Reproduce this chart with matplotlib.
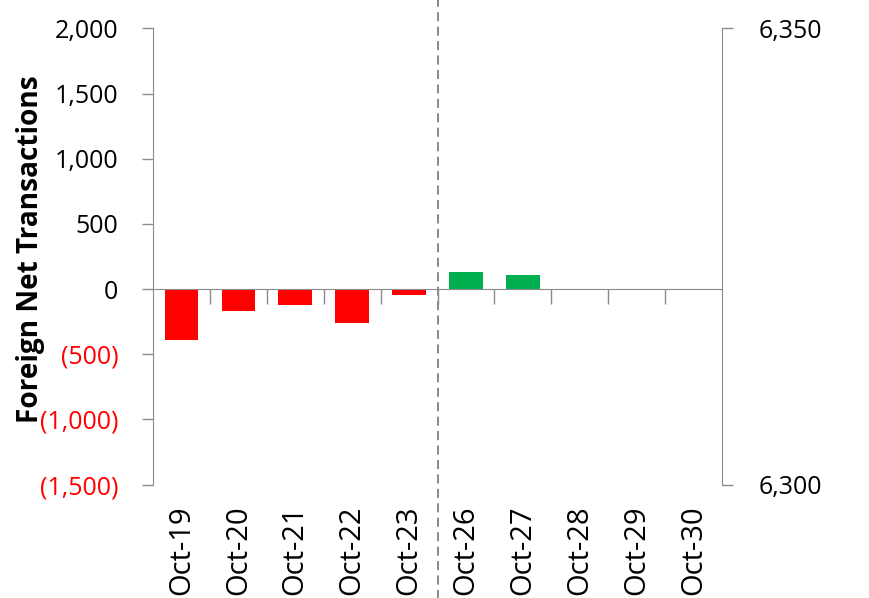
import matplotlib
matplotlib.use("Agg")
import matplotlib.pyplot as plt
import numpy as np
from matplotlib.ticker import FuncFormatter, FixedLocator

plt.rcParams['font.family'] = ['Open Sans', 'DejaVu Sans']

categories = ["Oct-19", "Oct-20", "Oct-21", "Oct-22", "Oct-23",
              "Oct-26", "Oct-27", "Oct-28", "Oct-29", "Oct-30"]
net_values = [-392, -164, -118, -256, -44, 128, 110, 0, 0, 0]
left_ticks = [-1500, -1000, -500, 0, 500, 1000, 1500, 2000]
right_ticks = [6300, 6350]

GREY = "#8c8c8c"
fig = plt.figure(figsize=(8.69, 5.98), dpi=100)
ax = fig.add_axes([0.176, 0.1895, 0.655, 0.763])

x = np.arange(len(categories))
colors = ["#FF0000" if v < 0 else "#00B050" for v in net_values]
ax.bar(x, net_values, width=0.59, color=colors, zorder=2)

ax.set_xlim(-0.5, len(categories) - 0.5)
ax.set_ylim(left_ticks[0], left_ticks[-1])
ax.set_yticks(left_ticks)

def fmt(v, pos=None):
    if v < 0:
        return "({:,.0f})".format(-v)
    return "{:,.0f}".format(v)

ax.yaxis.set_major_formatter(FuncFormatter(fmt))
for lbl, v in zip(ax.get_yticklabels(), left_ticks):
    lbl.set_color("#FF0000" if v < 0 else "black")
ax.tick_params(axis='y', length=8, width=1, color=GREY, labelsize=18, pad=17)

# zero-line spine with boundary ticks
ax.spines['bottom'].set_position(('data', 0))
ax.spines['bottom'].set_color(GREY)
ax.spines['bottom'].set_zorder(3)
ax.spines['left'].set_color(GREY)
ax.spines['top'].set_visible(False)
ax.spines['right'].set_visible(False)
ax.xaxis.set_major_locator(FixedLocator(np.arange(0.5, len(categories) - 1, 1.0)))
ax.tick_params(axis='x', length=11, width=1, color=GREY, labelbottom=False, direction='out')

# category labels at bottom
sec = ax.secondary_xaxis(0)
sec.spines['bottom'].set_visible(False)
sec.set_xticks(x)
sec.set_xticklabels(categories, rotation=90, fontsize=21, va='top')
sec.tick_params(axis='x', length=0, pad=15)

ax.set_ylabel("Foreign Net Transactions", fontsize=20.2, fontweight='bold')
ax.yaxis.set_label_coords(-0.19, 0.517)

# right axis
ax2 = ax.twinx()
ax2.set_ylim(right_ticks[0], right_ticks[-1])
ax2.set_yticks(right_ticks)
ax2.yaxis.set_major_formatter(FuncFormatter(lambda v, p: "{:,.0f}".format(v)))
ax2.tick_params(axis='y', length=8, width=1, color=GREY, labelsize=18, pad=18)
for s in ['top', 'bottom', 'left']:
    ax2.spines[s].set_visible(False)
ax2.spines['right'].set_color(GREY)

# dashed separator
ax.axvline(4.5, ymin=-0.3, ymax=1.1, color="#808080", linestyle=(0, (5, 3)),
           linewidth=1.3, clip_on=False, zorder=1)

fig.savefig("out.png", dpi=100)
